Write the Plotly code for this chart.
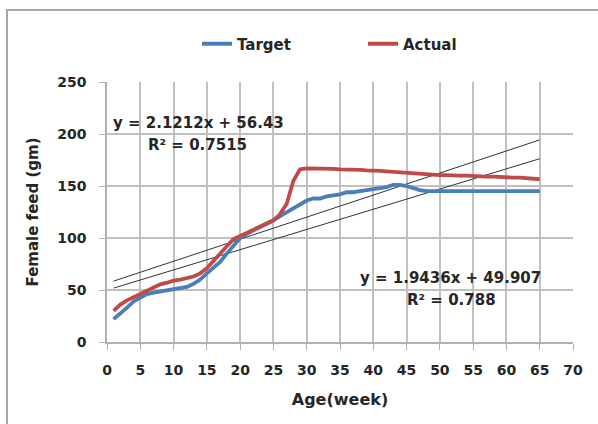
import plotly.graph_objects as go

# Weekly female feed allowance (g/bird/day), weeks 1-65
weeks = list(range(1, 66))
target = [22, 27, 33, 39, 43, 46, 47.5, 48.5, 49.5, 50.5,
          51.5, 53, 56, 60, 66, 71, 77, 85, 93, 100,
          104, 107, 111, 114, 117, 121, 125, 129, 132, 136,
          138, 138, 140, 141, 142, 144, 144, 145, 146, 147,
          148, 149, 151, 151, 150, 148, 146, 145, 145, 145,
          145, 145, 145, 145, 145, 145, 145, 145, 145, 145,
          145, 145, 145, 145, 145]
actual = [30, 36, 40, 43, 47, 50, 53, 55.5, 57, 59,
          60, 61.5, 63, 66, 71, 78, 85, 92, 99, 102,
          105, 108, 111, 114, 117, 123, 133, 155, 166, 167,
          167, 167, 166.5, 166.5, 166, 166, 165.5, 165.5, 165, 165,
          164.5, 164, 163.5, 163, 163, 162, 161.5, 161, 161, 160.5,
          160.5, 160, 160, 160, 159.5, 159.5, 159, 159, 158.5, 158.5,
          158, 158, 157.5, 157, 156.5]

# Linear trend lines (slope, intercept, R^2)
trend_actual = (2.1212, 56.43, 0.7515)
trend_target = (1.9436, 49.907, 0.788)

x_ticks = list(range(0, 75, 5))
y_ticks = list(range(0, 300, 50))

FONT = "DejaVu Sans"
TXT = "#262626"

fig = go.Figure()

for slope, icpt, _ in (trend_actual, trend_target):
    xs = [weeks[0], weeks[-1]]
    fig.add_trace(go.Scatter(
        x=xs, y=[slope * x + icpt for x in xs], mode="lines",
        line=dict(color="#333333", width=1), showlegend=False,
        hoverinfo="skip"))

fig.add_trace(go.Scatter(x=weeks, y=target, mode="lines", name="Target",
                         line=dict(color="#4a7ebb", width=3.8)))
fig.add_trace(go.Scatter(x=weeks, y=actual, mode="lines", name="Actual",
                         line=dict(color="#be4b48", width=3.8)))

def eq_text(slope, icpt):
    return f"y = {slope}x + {icpt}"

ann_font = dict(family=FONT, size=15, color=TXT, weight="bold")
annotations = [
    dict(x=198, y=123, text=eq_text(*trend_actual[:2])),
    dict(x=197, y=145, text=f"R² = {trend_actual[2]}"),
    dict(x=450, y=278, text=eq_text(*trend_target[:2])),
    dict(x=451, y=300, text=f"R² = {trend_target[2]}"),
]
L, R, T, B = 107, 573, 82, 342
for a in annotations:
    fig.add_annotation(
        x=(a["x"] - L) / (R - L), y=(B - a["y"]) / (B - T),
        xref="paper", yref="paper", text=a["text"], showarrow=False,
        xanchor="center", yanchor="middle", font=ann_font)

# chart border
fig.add_shape(type="rect", xref="paper", yref="paper",
              x0=(7 - L) / (R - L), x1=(602 - L) / (R - L),
              y0=(B - 430) / (B - T), y1=(B - 10) / (B - T),
              line=dict(color="#a6a6a6", width=2), layer="below")

axis_common = dict(
    showgrid=True, gridcolor="#c0c0c0", gridwidth=1.5,
    showline=True, linecolor="#b0b0b0", linewidth=1.5,
    ticks="outside", ticklen=6, tickcolor="#b0b0b0",
    tickfont=dict(family=FONT, size=14, color=TXT, weight="bold"),
    zeroline=False,
)

fig.update_layout(
    width=598, height=424,
    margin=dict(l=L, r=598 - R, t=T, b=424 - B),
    paper_bgcolor="white", plot_bgcolor="white",
    xaxis=dict(range=[0, 70], tickvals=x_ticks, ticklabelstandoff=8,
               title=dict(text="Age(week)", standoff=17,
                          font=dict(family=FONT, size=16, color=TXT, weight="bold")),
               **axis_common),
    yaxis=dict(range=[0, 250], tickvals=y_ticks, ticklabelstandoff=10,
               title=dict(text="Female feed (gm)", standoff=15,
                          font=dict(family=FONT, size=15, color=TXT, weight="bold")),
               **axis_common),
    legend=dict(orientation="h", x=(197 - L) / (R - L), y=(B - 44) / (B - T),
                xanchor="left", yanchor="middle", bgcolor="rgba(0,0,0,0)",
                font=dict(family=FONT, size=15, color=TXT, weight="bold"),
                entrywidthmode="pixels", entrywidth=121),
    showlegend=True,
)

fig.write_html("out.html")
